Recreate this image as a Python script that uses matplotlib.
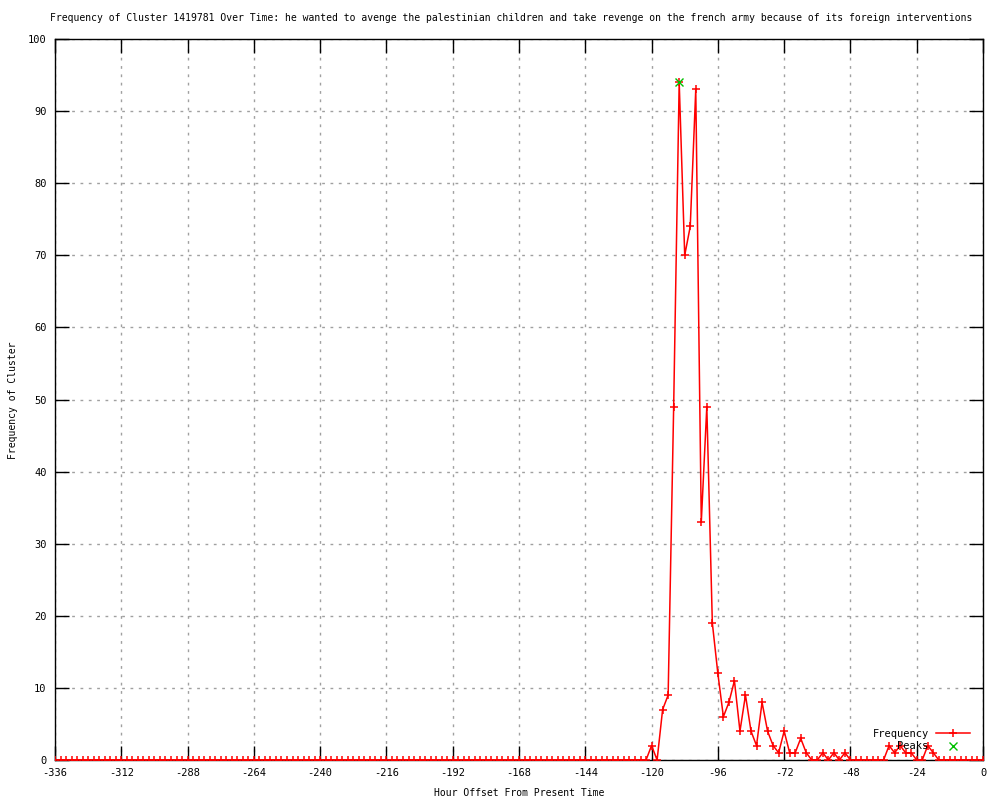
import matplotlib.pyplot as plt
import numpy as np

# Data: one value every 2 hours, from -336 to 0
hours = np.arange(-336, 1, 2)
frequency = [
    0, 0, 0, 0, 0, 0, 0, 0, 0, 0, 0, 0, 0, 0, 0, 0, 0, 0,
    0, 0, 0, 0, 0, 0, 0, 0, 0, 0, 0, 0, 0, 0, 0, 0, 0, 0,
    0, 0, 0, 0, 0, 0, 0, 0, 0, 0, 0, 0, 0, 0, 0, 0, 0, 0,
    0, 0, 0, 0, 0, 0, 0, 0, 0, 0, 0, 0, 0, 0, 0, 0, 0, 0,
    0, 0, 0, 0, 0, 0, 0, 0, 0, 0, 0, 0, 0, 0, 0, 0, 0, 0,
    0, 0, 0, 0, 0, 0, 0, 0, 0, 0, 0, 0, 0, 0, 0, 0, 0, 0,
    # -120 .. -64
    2, 0, 7, 9, 49, 94, 70, 74, 93, 33, 49, 19, 12, 6, 8, 11, 4, 9, 4, 2,
    8, 4, 2, 1, 4, 1, 1, 3, 1,
    # -62 .. -36
    0, 0, 1, 0, 1, 0, 1, 0, 0, 0, 0, 0, 0, 0,
    # -34 .. -16
    2, 1, 2, 1, 1, 0, 0, 2, 1, 0,
    # -14 .. 0
    0, 0, 0, 0, 0, 0, 0, 0,
]
peak_hours = [-110]
peak_values = [94]

title = ('Frequency of Cluster 1419781 Over Time: he wanted to avenge the palestinian '
         'children and take revenge on the french army because of its foreign interventions')

plt.rcParams['font.family'] = ['DejaVu Sans Mono']
plt.rcParams['font.size'] = 7
plt.rcParams['axes.unicode_minus'] = False

fig = plt.figure(figsize=(10, 8), dpi=100)
ax = fig.add_axes([0.055, 0.05, 0.928, 0.90125])

ax.plot(hours, frequency, color='red', linewidth=1.1, marker='+',
        markersize=6, markeredgewidth=1.1, label='Frequency', zorder=3)
ax.plot(peak_hours, peak_values, linestyle='none', color='#00c000', marker='x',
        markersize=6, markeredgewidth=1.0, label='Peaks', zorder=4)

ax.set_xlim(-336, 0)
ax.set_ylim(0, 100)
ax.set_xticks(np.arange(-336, 1, 24))
ax.set_yticks(np.arange(0, 101, 10))
ax.tick_params(direction='in', length=10, width=1, top=True, right=True,
               labelsize=7.5, pad=6, colors='black')
ax.grid(True, color='#a0a0a0', linestyle=(0, (2, 4)), linewidth=1)
for s in ax.spines.values():
    s.set_linewidth(1)
    s.set_color('black')

fig.text(0.519, 1 - 793 / 800, 'Hour Offset From Present Time',
         ha='center', va='center', fontsize=7)
fig.text(0.013, 1 - 400 / 800, 'Frequency of Cluster', rotation=90,
         ha='center', va='center', fontsize=7)
fig.text(0.511, 1 - 18 / 800, title, ha='center', va='center', fontsize=7)

ax.legend(loc='lower right', bbox_to_anchor=(0.992, 0.005), frameon=False,
          markerfirst=False, borderpad=0, handlelength=3.3, handletextpad=0.7,
          labelspacing=0.25, fontsize=7.5)

plt.savefig('out.png', dpi=100)
